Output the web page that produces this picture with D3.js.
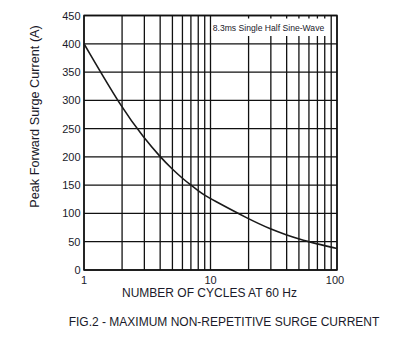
<!DOCTYPE html>
<html>
<head>
<meta charset="utf-8">
<script src="https://cdn.jsdelivr.net/npm/d3@7"></script>
<style>
  html, body { margin: 0; padding: 0; background: #fff; }
  svg { display: block; font-family: "Liberation Sans", Arial, sans-serif; }
</style>
</head>
<body>
<svg id="chart" width="398" height="344"></svg>
<script>
// ---- data ----
const cycles  = [1, 2, 3, 4, 5, 6, 7, 8, 9, 10, 20, 30, 40, 50, 60, 70, 80, 90, 100];
const current = [400, 285, 233, 200, 178, 162, 150, 140, 132, 126, 90, 72, 62, 55, 50, 46, 43, 40.5, 38];
const xGridValues = [1, 2, 3, 4, 5, 6, 7, 8, 9, 10, 20, 30, 40, 50, 60, 70, 80, 90, 100];
const xTickLabels = [1, 10, 100];
const yTickValues = [0, 50, 100, 150, 200, 250, 300, 350, 400, 450];
const noteText = "8.3ms Single Half Sine-Wave";
const xTitle = "NUMBER OF CYCLES AT 60 Hz";
const yTitle = "Peak Forward Surge Current (A)";
const figTitle = "FIG.2 - MAXIMUM NON-REPETITIVE SURGE CURRENT";

(function () {
const svg = d3.select("#chart");
const pL = 84, pR = 337, pT = 15.5, pB = 270;
const x = d3.scaleLog().domain([1, 100]).range([pL, pR]);
const y = d3.scaleLinear().domain([0, 450]).range([pB, pT]);
const ink = "#111";
const textCol = "#1a1a2a";

// grid
const g = svg.append("g");
g.selectAll("line.vx").data(xGridValues).enter().append("line")
  .attr("x1", d => x(d)).attr("x2", d => x(d))
  .attr("y1", pT).attr("y2", pB)
  .attr("stroke", ink).attr("stroke-width", 1.3);
g.selectAll("line.hy").data(yTickValues).enter().append("line")
  .attr("x1", pL).attr("x2", pR)
  .attr("y1", d => y(d)).attr("y2", d => y(d))
  .attr("stroke", ink).attr("stroke-width", 1.3);
g.append("rect").attr("x", pL).attr("y", pT)
  .attr("width", pR - pL).attr("height", pB - pT)
  .attr("fill", "none").attr("stroke", ink).attr("stroke-width", 1.5);

// note box
svg.append("rect").attr("x", x(10) + 1.2).attr("y", 18.5)
  .attr("width", 117).attr("height", 17.5).attr("fill", "#fff");
svg.append("text").attr("x", 268.5).attr("y", 31)
  .attr("text-anchor", "middle").attr("font-size", 8.6).attr("fill", textCol)
  .text(noteText);

// curve
const pts = cycles.map((c, i) => [c, current[i]]);
svg.append("path").datum(pts)
  .attr("d", d3.line().x(d => x(d[0])).y(d => y(d[1])).curve(d3.curveBasis))
  .attr("fill", "none").attr("stroke", "#1a1a1a").attr("stroke-width", 1.6);

// y tick labels
svg.selectAll("text.yt").data(yTickValues).enter().append("text")
  .attr("x", 80.5).attr("y", d => y(d) + 4)
  .attr("text-anchor", "end").attr("font-size", 11).attr("fill", textCol)
  .text(d => d);

// x tick labels
svg.selectAll("text.xt").data(xTickLabels).enter().append("text")
  .attr("x", d => x(d) - (d === 100 ? 2 : 0)).attr("y", 283.5)
  .attr("text-anchor", "middle").attr("font-size", 11).attr("fill", textCol)
  .text(d => d);

// axis titles
svg.append("text").attr("x", 209.5).attr("y", 297)
  .attr("text-anchor", "middle").attr("font-size", 12).attr("fill", textCol)
  .text(xTitle);
svg.append("text")
  .attr("transform", "translate(38.5,116.5) rotate(-90)")
  .attr("text-anchor", "middle").attr("font-size", 12.7).attr("fill", textCol)
  .text(yTitle);
svg.append("text").attr("x", 224).attr("y", 326)
  .attr("text-anchor", "middle").attr("font-size", 12).attr("fill", textCol)
  .text(figTitle);
})();
</script>
</body>
</html>
